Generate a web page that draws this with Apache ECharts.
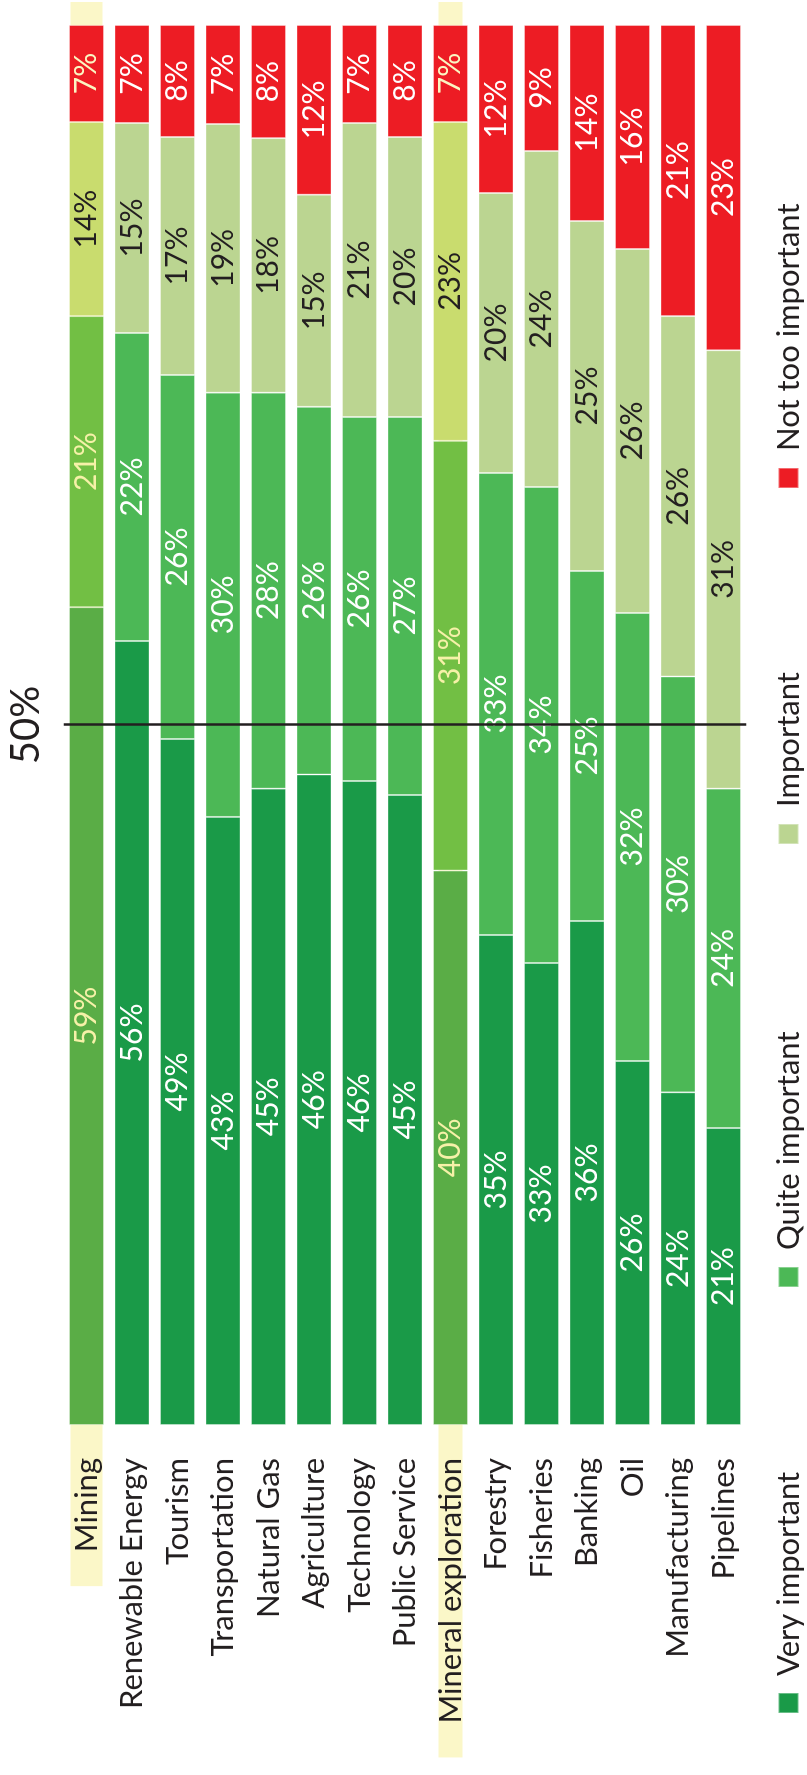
<!DOCTYPE html>
<html>
<head>
<meta charset="utf-8">
<script src="https://cdn.jsdelivr.net/npm/echarts@6/dist/echarts.min.js"></script>
<style>
html, body { margin: 0; padding: 0; overflow: hidden; background: #fff; width: 807px; height: 1775px; }
#wrap { position: absolute; left: 0; top: 0; width: 1775px; height: 807px;
  transform-origin: 0 0; transform: translateY(1775px) rotate(-90deg); }
</style>
</head>
<body>
<div id="wrap"></div>
<script>
// ---- data ----
const categories = ['Mining', 'Renewable Energy', 'Tourism', 'Transportation', 'Natural Gas',
  'Agriculture', 'Technology', 'Public Service', 'Mineral exploration', 'Forestry',
  'Fisheries', 'Banking', 'Oil', 'Manufacturing', 'Pipelines'];
const veryImportant   = [59, 56, 49, 43, 45, 46, 46, 45, 40, 35, 33, 36, 26, 24, 21];
const quiteImportant  = [21, 22, 26, 30, 28, 26, 26, 27, 31, 33, 34, 25, 32, 30, 24];
const important       = [14, 15, 17, 19, 18, 15, 21, 20, 23, 20, 24, 25, 26, 26, 31];
const notTooImportant = [ 7,  7,  8,  7,  8, 12,  7,  8,  7, 12,  9, 14, 16, 21, 23];
const seriesNames = ['Very important', 'Quite important', 'Important', 'Not too important'];
const highlighted = ['Mining', 'Mineral exploration'];
const referenceLine = 0.5;
const referenceLabel = '50%';

// ---- styles ----
const FONT = 'Lato';
const TEXT = '#231f20';
const colors = ['#1a9a48', '#4cb856', '#bbd591', '#ed1c24'];
const highlightColors = ['#5aad46', '#72bf44', '#c9dc6e', '#ed1c24'];
const labelColors = ['#ffffff', '#ffffff', TEXT, '#ffffff'];
const highlightLabelColors = ['#f6f1a8', '#f6f1a8', TEXT, '#fbf6c2'];
const highlightFill = '#fbf7c8';
const highlightWidth = { 'Mining': 32, 'Mineral exploration': 24 };
const CAT_SIZE = 31;

const raw = [veryImportant, quiteImportant, important, notTooImportant];
const totals = categories.map((c, i) => raw.reduce((s, arr) => s + arr[i], 0));

const measureCtx = document.createElement('canvas').getContext('2d');
measureCtx.font = CAT_SIZE + 'px ' + FONT;

const chart = echarts.init(document.getElementById('wrap'), null, { renderer: 'canvas' });

const barSeries = raw.map((arr, k) => ({
  name: seriesNames[k],
  type: 'bar',
  stack: 'total',
  barWidth: 35,
  z: 2,
  itemStyle: { color: colors[k], borderColor: 'rgba(255,255,255,0.35)', borderWidth: 1 },
  label: {
    show: true, position: 'inside', fontFamily: FONT, fontSize: 30,
    color: labelColors[k],
    formatter: p => arr[p.dataIndex] + '%'
  },
  data: arr.map((v, i) => {
    const item = { value: v / totals[i] };
    if (highlighted.includes(categories[i])) {
      item.itemStyle = { color: highlightColors[k] };
      item.label = { color: highlightLabelColors[k] };
    }
    return item;
  })
}));

barSeries[3].markLine = {
  silent: true, symbol: 'none', animation: false,
  lineStyle: { color: TEXT, width: 2.5, type: 'solid' },
  label: { show: true, position: 'start', formatter: referenceLabel, fontFamily: FONT,
    fontSize: 40, color: TEXT, distance: 18 },
  data: [{ xAxis: referenceLine }]
};

const highlightSeries = {
  type: 'custom',
  z: 1,
  silent: true,
  clip: false,
  renderItem: (params, api) => {
    const idx = api.value(1);
    const name = categories[idx];
    const base = api.coord([0, idx]);
    const end = api.coord([1, idx]);
    const textW = measureCtx.measureText(name).width;
    const start = base[0] - 33 - textW - 34;
    const w = highlightWidth[name] || 30;
    return {
      type: 'rect',
      shape: { x: start, y: base[1] - w / 2, width: end[0] + 23 - start, height: w },
      style: { fill: highlightFill }
    };
  },
  data: highlighted.map(n => [0, categories.indexOf(n)])
};

const legendLefts = [61, 487, 930, 1286];
const legends = seriesNames.map((n, k) => ({
  data: [n], left: legendLefts[k], top: 773, padding: 0, orient: 'horizontal',
  icon: 'rect', itemWidth: 20, itemHeight: 20, selectedMode: false,
  textStyle: { fontFamily: FONT, fontSize: 31, color: TEXT, padding: [0, 0, 0, 12] }
}));

chart.setOption({
  animation: false,
  grid: { left: 350, right: 25, top: 63.75, bottom: 60.75 },
  legend: legends,
  xAxis: { type: 'value', min: 0, max: 1, show: false },
  yAxis: {
    type: 'category', data: categories, inverse: true, z: 5,
    axisLine: { show: false }, axisTick: { show: false },
    axisLabel: { fontFamily: FONT, fontSize: CAT_SIZE, color: TEXT, margin: 33 }
  },
  series: [...barSeries, highlightSeries]
});
</script>
</body>
</html>
